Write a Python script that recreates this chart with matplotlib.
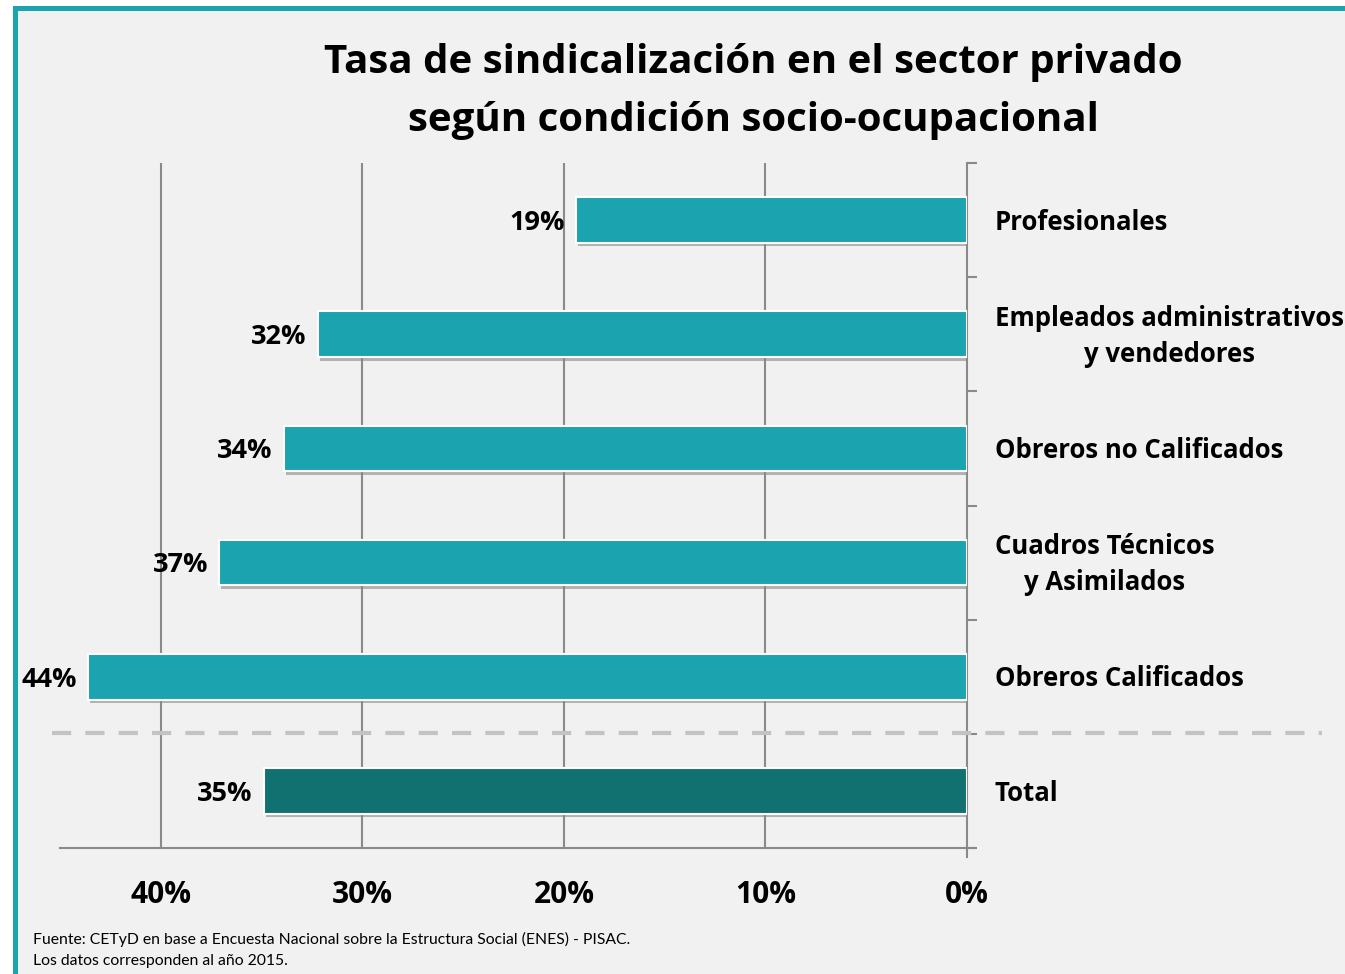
import matplotlib
matplotlib.use("Agg")
import matplotlib.pyplot as plt
import matplotlib.patheffects as pe
from matplotlib.patches import Rectangle
import numpy as np

plt.rcParams['font.family'] = ['Open Sans', 'DejaVu Sans']

# data
categorias = ["Profesionales",
              "Empleados administrativos\ny vendedores",
              "Obreros no Calificados",
              "Cuadros Técnicos\ny Asimilados",
              "Obreros Calificados",
              "Total"]
tasas = [19.4, 32.2, 33.9, 37.1, 43.6, 34.9]
etiquetas = ["19%", "32%", "34%", "37%", "44%", "35%"]
x_ticks = [40, 30, 20, 10, 0]
x_ticklabels = ["40%", "30%", "20%", "10%", "0%"]

teal = "#1ba3af"
teal_dark = "#117070"
colores = [teal] * 5 + [teal_dark]

W, H = 1345, 974
fig = plt.figure(figsize=(W / 100, H / 100), dpi=100, facecolor="white")

# panel background + teal border (left and top)
fig.patches.append(Rectangle((13 / W, 0), 1.0, (H - 6) / H, transform=fig.transFigure,
                             facecolor="#f1f1f1", edgecolor="none", zorder=-10))
fig.patches.append(Rectangle((13 / W, 0), 5 / W, (H - 6) / H, transform=fig.transFigure,
                             facecolor=teal, edgecolor="none", zorder=-9))
fig.patches.append(Rectangle((13 / W, (H - 11) / H), 1.0, 5 / H, transform=fig.transFigure,
                             facecolor=teal, edgecolor="none", zorder=-9))

ax = fig.add_axes([60 / W, (H - 848) / H, (967 - 60) / W, (848 - 163) / H])
ax.set_facecolor("none")

y = np.arange(len(categorias))
shadow = [pe.SimplePatchShadow(offset=(1.5, -2.5), shadow_rgbFace="#888888", alpha=0.6), pe.Normal()]
bars = ax.barh(y, tasas, height=0.4, color=colores, edgecolor="white", linewidth=1.5, zorder=3)
for b in bars:
    b.set_path_effects(shadow)

ax.set_xlim(45, 0)
ax.set_ylim(len(categorias) - 0.5, -0.5)

# gridlines
for xv in x_ticks[:-1]:
    ax.axvline(xv, color="#8a8a8a", linewidth=1.5, zorder=1)

ax.set_xticks(x_ticks)
ax.set_xticklabels(x_ticklabels, fontsize=21.5, fontweight="bold")
ax.tick_params(axis="x", length=0, pad=23)
ax.set_yticks([])
ax.set_yticks(np.arange(-0.5, len(categorias)), minor=True)
ax.yaxis.set_ticks_position("right")
ax.tick_params(axis="y", which="minor", direction="out", length=7, width=1.5,
               color="#8a8a8a", right=True, left=False)

for s in ["top", "left"]:
    ax.spines[s].set_visible(False)
ax.spines["right"].set_color("#8a8a8a")
ax.spines["right"].set_linewidth(1.5)
ax.spines["bottom"].set_color("#8a8a8a")
ax.spines["bottom"].set_linewidth(1.5)
ax.plot([0, 0], [len(categorias) - 0.5, len(categorias) - 0.42], color="#8a8a8a",
        linewidth=1.5, clip_on=False)
ax.plot([0, -0.4], [len(categorias) - 0.5, len(categorias) - 0.5], color="#8a8a8a",
        linewidth=1.5, clip_on=False)

# value labels
for yi, v, lab in zip(y, tasas, etiquetas):
    ax.annotate(lab, (v, yi), xytext=(-8, -2), textcoords="offset points",
                ha="right", va="center", fontsize=19.5, fontweight="bold", zorder=5)

# category labels
for yi, cat in zip(y, categorias):
    ax.annotate(cat, (0, yi), xytext=(20, -1.5), textcoords="offset points",
                ha="left", va="center", multialignment="center",
                fontsize=18.5, fontweight="bold", linespacing=1.4, annotation_clip=False)

# dashed separator
fig.add_artist(plt.Line2D([52 / W, 1322 / W], [(H - 733) / H, (H - 733) / H],
                          transform=fig.transFigure, color="#c3c3c3", linewidth=3,
                          dashes=(4.6, 3.4), zorder=2))

fig.text(753 / W, (H - 63) / H, "Tasa de sindicalización en el sector privado",
         ha="center", va="center", fontsize=29, fontweight="bold")
fig.text(753 / W, (H - 120) / H, "según condición socio-ocupacional",
         ha="center", va="center", fontsize=29, fontweight="bold")

fig.text(33 / W, (H - 939) / H, "Fuente: CETyD en base a Encuesta Nacional sobre la Estructura Social (ENES) - PISAC.",
         ha="left", va="center", fontsize=11.3, family=["Lato", "DejaVu Sans"])
fig.text(33 / W, (H - 961) / H, "Los datos corresponden al año 2015.",
         ha="left", va="center", fontsize=11.3, family=["Lato", "DejaVu Sans"])

fig.savefig("out.png", dpi=100, facecolor=fig.get_facecolor())
